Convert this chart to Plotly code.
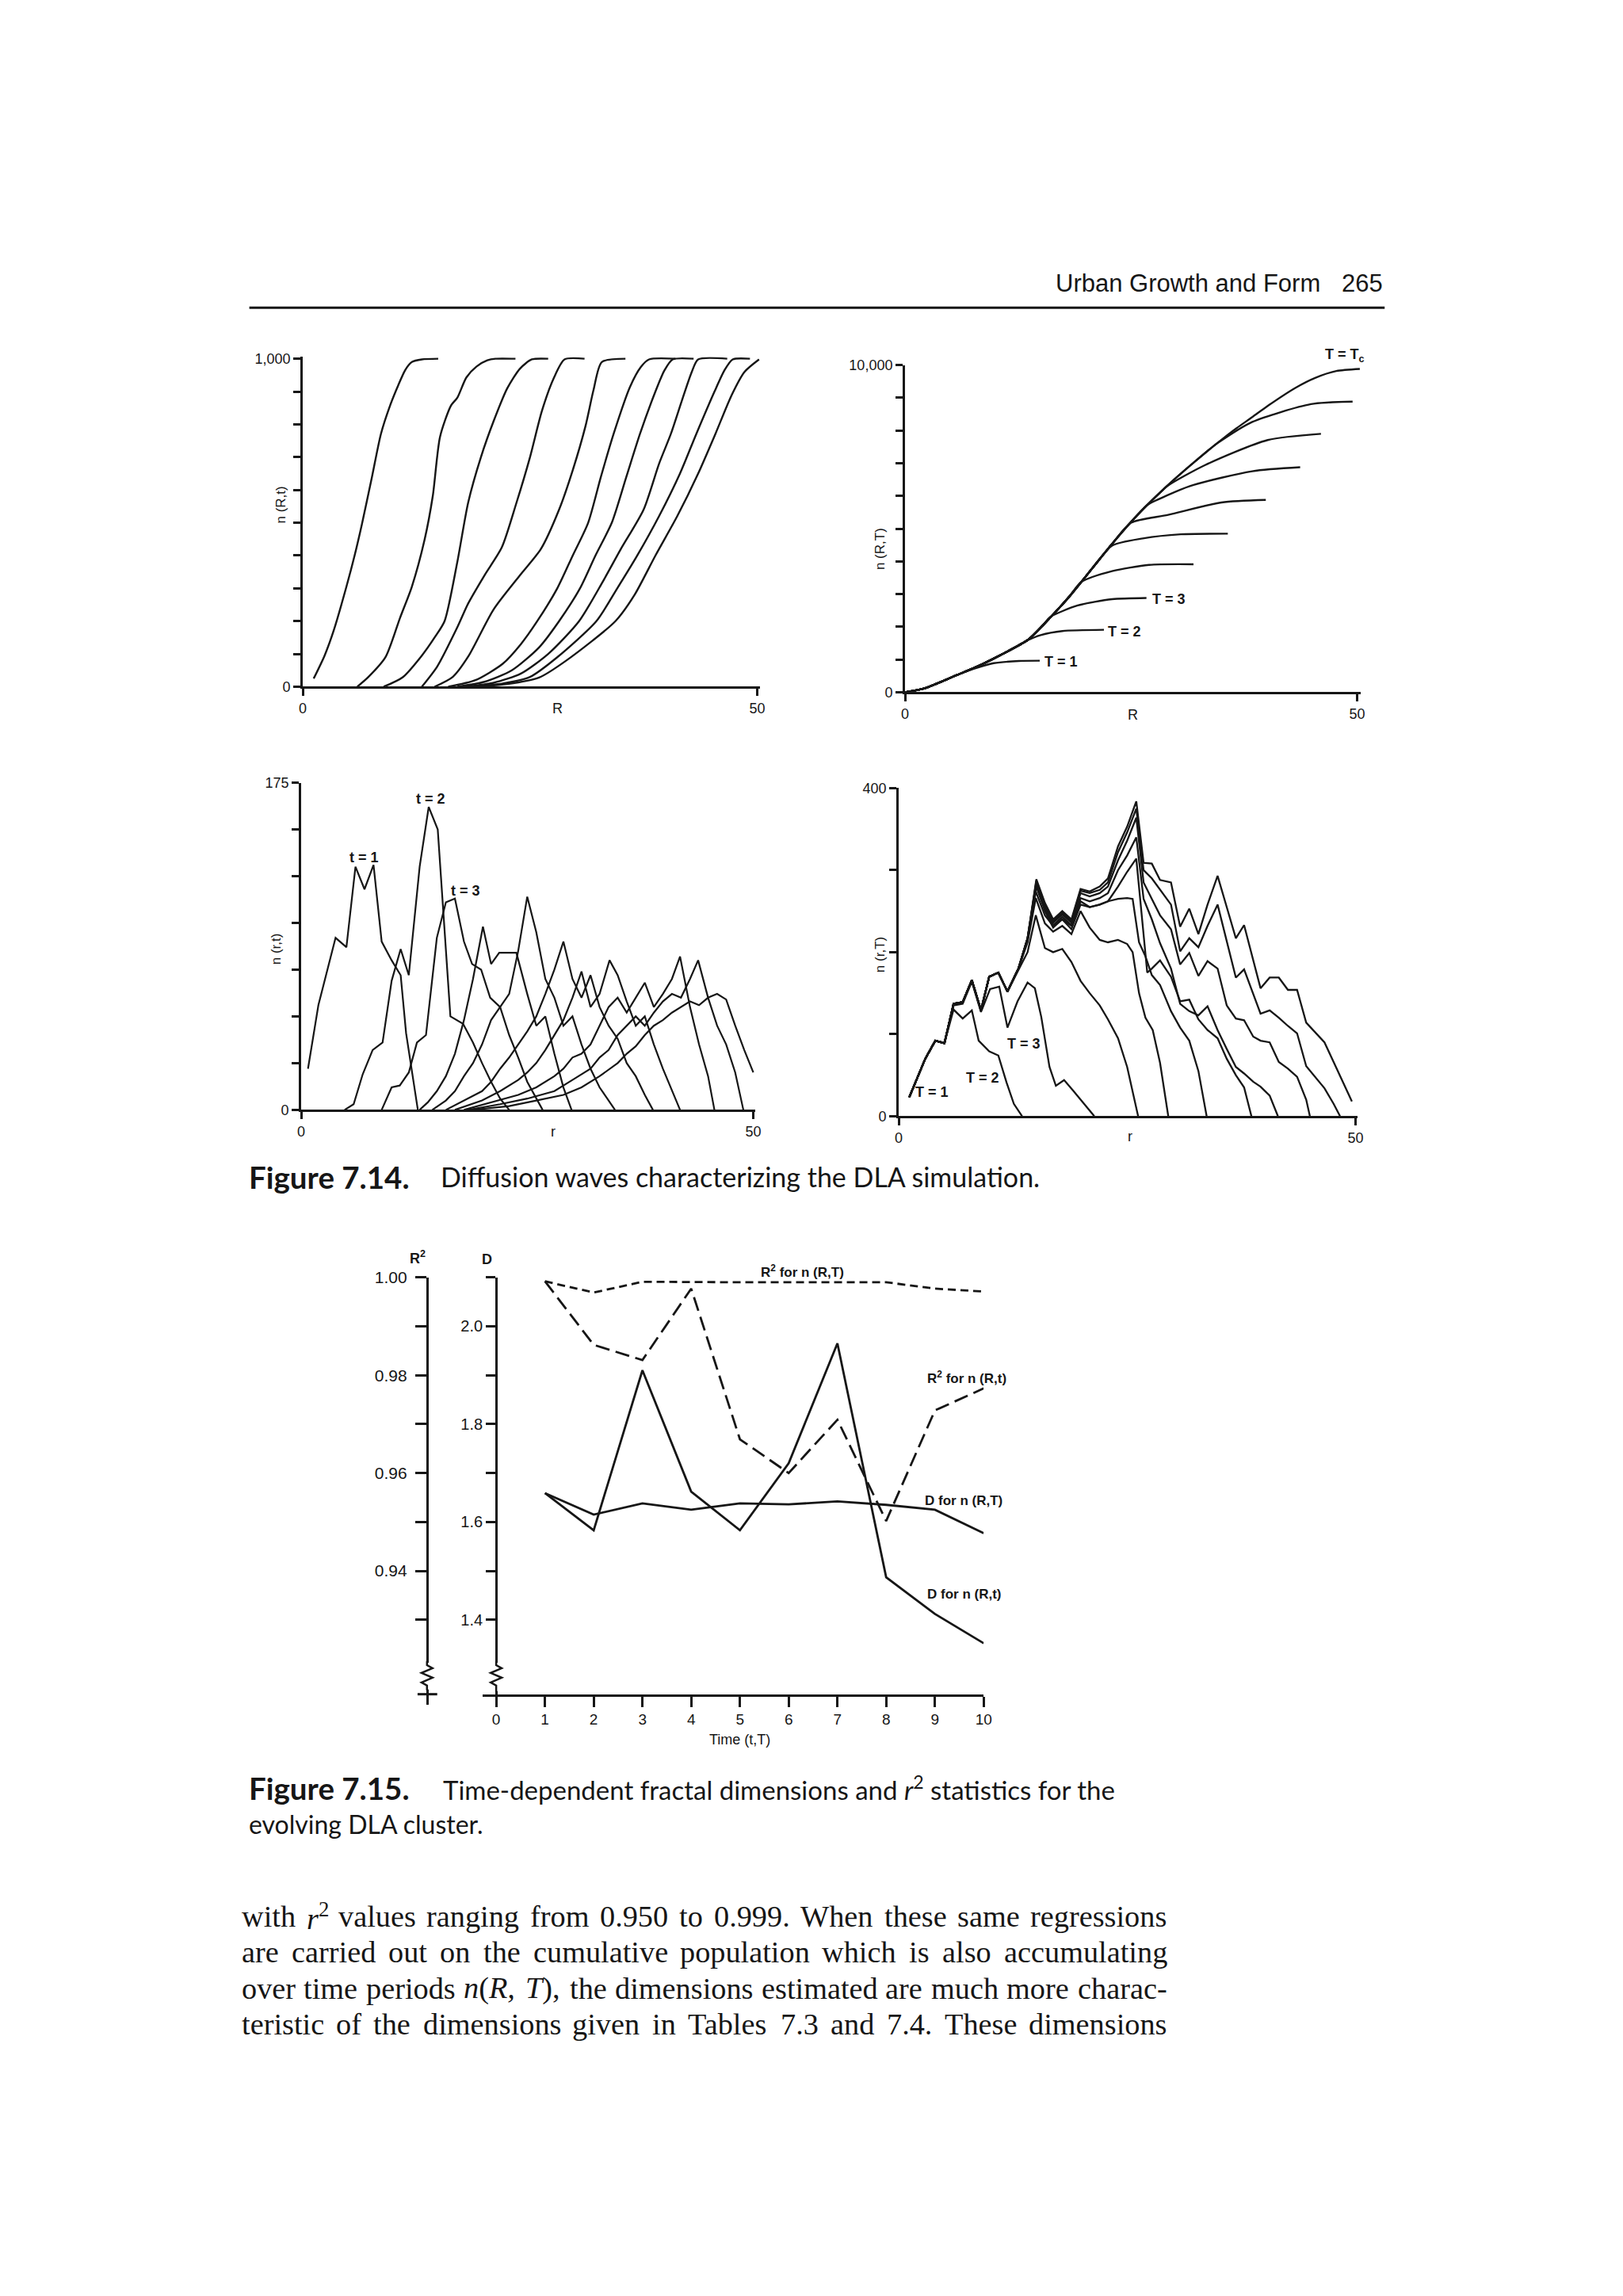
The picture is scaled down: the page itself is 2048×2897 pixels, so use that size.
import re
import plotly.graph_objects as go

# page is 2048x2897; the browser body keeps an 8px margin, so the figure is drawn 8px in
PAGE_W, PAGE_H, MARGIN = 2048, 2897, 8
FW, FH = 2030, 2876
INK = '#161616'

# ---------------- Figure 7.14, top-left: n(R,t) ----------------
A_R = [
    [1.2, 2.4, 3.4, 4.8, 5.7, 6.5, 7.6, 8.6, 9.6, 10.5, 11.3, 12.0, 13.1, 14.9],
    [6.0, 7.2, 9.1, 10.7, 12.0, 13.4, 14.3, 15.1, 16.3, 17.0, 18.0, 19.1, 20.3, 21.2, 23.4],
    [8.9, 11.0, 13.1, 14.5, 15.6, 17.0, 18.2, 19.6, 21.0, 22.5, 23.9, 25.2, 27.0],
    [13.1, 14.8, 17.0, 18.2, 20.0, 21.9, 23.5, 25.0, 26.3, 27.6, 28.8, 31.0],
    [14.5, 16.5, 18.2, 21.0, 23.9, 26.2, 28.2, 29.7, 31.1, 32.0, 32.9, 35.5],
    [16.0, 19.0, 22.0, 24.0, 25.8, 28.0, 29.7, 31.4, 32.8, 34.2, 36.0, 37.2, 38.1, 41.0],
    [17.0, 20.0, 23.0, 26.0, 28.2, 30.5, 32.2, 34.0, 35.6, 37.1, 38.8, 39.8, 40.7, 43.0],
    [18.0, 21.0, 24.0, 27.0, 30.4, 33.0, 35.0, 37.5, 39.2, 40.5, 41.8, 42.8, 43.5, 46.7],
    [18.5, 22.0, 25.0, 28.0, 32.3, 34.6, 36.8, 39.2, 41.5, 43.3, 45.3, 46.4, 47.3, 49.2],
    [19.0, 22.5, 26.0, 29.0, 34.4, 36.5, 38.8, 41.2, 43.5, 45.4, 47.2, 48.6, 50.2],
]
A_N = [
    [25, 95, 171, 305, 400, 495, 638, 771, 857, 919, 967, 990, 998, 1000],
    [0, 29, 90, 210, 305, 448, 581, 762, 857, 881, 943, 976, 995, 1000, 1000],
    [0, 29, 95, 150, 200, 380, 562, 700, 810, 910, 970, 998, 1000],
    [0, 62, 181, 254, 340, 425, 560, 700, 840, 940, 998, 1000],
    [0, 30, 92, 236, 340, 420, 540, 660, 794, 906, 990, 1000],
    [0, 20, 70, 130, 200, 300, 400, 500, 640, 771, 914, 975, 998, 1000],
    [0, 15, 50, 120, 200, 300, 400, 500, 640, 771, 900, 965, 998, 1000],
    [0, 12, 40, 100, 200, 320, 420, 540, 680, 771, 880, 960, 998, 1000],
    [0, 10, 30, 90, 200, 300, 400, 520, 650, 771, 900, 965, 998, 1000],
    [0, 8, 28, 80, 200, 280, 400, 520, 650, 771, 890, 960, 998],
]

# ---------------- Figure 7.14, top-right: n(R,T) ----------------
B_ENV_R = [0, 2.2, 5.7, 8.1, 10.8, 13.6, 15.3, 18.1, 20.8, 22.9, 25.0, 26.7, 28.1, 29.8,
           31.9, 33.9, 35.3, 36.7, 38.4, 40.1, 43.2, 45.3, 47.7, 50.3]
B_ENV_N = [0, 124, 520, 800, 1170, 1603, 2062, 2902, 3820, 4534, 5206, 5699, 6077, 6511,
           7015, 7475, 7783, 8077, 8409, 8749, 9307, 9601, 9817, 9882]
B_BEND_R = [
    [7.6, 9.8, 12.6, 14.9],
    [13.3, 15.0, 17.4, 22.0],
    [16.0, 19.1, 22.9, 26.7],
    [19.5, 22.9, 27.0, 31.9],
    [22.9, 26.3, 30.5, 35.7],
    [25.0, 29.1, 35.0, 39.9],
    [27.0, 31.5, 38.4, 43.7],
    [29.1, 33.2, 40.1, 46.0],
    [34.6, 38.4, 44.9, 49.5],
]
B_BEND_N = [
    [715, 887, 954, 963],
    [1555, 1746, 1870, 1908],
    [2290, 2652, 2843, 2881],
    [3370, 3702, 3892, 3911],
    [4480, 4700, 4827, 4846],
    [5180, 5420, 5800, 5877],
    [5760, 6300, 6755, 6878],
    [6320, 6945, 7708, 7899],
    [7620, 8260, 8805, 8882],
]

# ---------------- Figure 7.14, bottom-left: n(r,t) ----------------
C_R = [
    [0.75, 1.9, 3.8, 5.0, 6.0, 7.0, 8.0, 8.9, 10.0, 11.0, 11.6, 12.9],
    [4.8, 5.8, 6.8, 7.9, 9.0, 10.0, 11.0, 11.9, 13.1, 14.1, 15.1, 16.5, 17.9, 19.0, 20.0, 21.0, 22.0, 23.0],
    [8.9, 10.0, 10.9, 11.9, 12.8, 13.8, 15.0, 16.0, 17.0, 18.0, 18.9, 19.9, 20.9, 22.0, 23.0, 24.0, 25.0, 26.0, 26.7],
    [13.1, 14.0, 15.0, 16.0, 17.0, 18.0, 19.0, 20.1, 21.0, 21.9, 23.0, 23.8, 25.0, 26.0, 27.0, 28.0, 29.0, 29.9],
    [14.5, 16, 17, 18, 19, 20, 21, 22, 23, 24, 25, 26, 27, 28, 29, 30, 31, 32, 33, 34, 34.7],
    [16, 18, 20, 21, 22, 23, 24, 25, 26, 27, 28, 29, 30, 31, 32, 33, 34, 35, 36, 37, 38, 38.9],
    [17, 20, 22, 24, 25, 26, 27, 28, 29, 30, 31, 32, 33, 34.1, 35, 36, 37, 38, 39, 40, 41, 41.9],
    [18, 21, 24, 26, 28, 29, 30, 31, 32, 33, 34, 35, 36, 37, 38, 39, 40, 41, 41.9, 43, 44, 45, 45.7],
    [18.5, 22, 25, 28, 30, 32, 33, 34, 35, 36, 37, 38, 39, 40, 41, 42, 43, 43.9, 45, 46, 47, 48, 48.9],
    [19, 23, 26, 29, 31, 33, 35, 36, 37, 38, 39, 40, 41, 42, 43, 44, 45, 46, 47, 48, 49, 50],
]
C_N = [
    [22, 56, 92, 87, 130, 118, 131, 90, 80, 72, 41, 0],
    [0, 3, 19, 32, 36, 69, 86, 72, 130, 162, 150, 50, 46, 36, 25, 15, 6, 0],
    [0, 12, 13, 20, 36, 40, 92, 111, 113, 90, 78, 75, 60, 55, 40, 28, 15, 6, 0],
    [0, 4, 10, 18, 30, 48, 70, 98, 78, 84, 84, 84, 62, 45, 50, 30, 12, 0],
    [0, 5, 10, 18, 25, 35, 48, 55, 62, 85, 114, 95, 70, 60, 45, 50, 35, 22, 12, 5, 0],
    [0, 5, 10, 15, 22, 28, 35, 42, 50, 62, 75, 90, 70, 60, 72, 55, 45, 38, 25, 18, 8, 0],
    [0, 5, 10, 16, 20, 25, 32, 40, 48, 60, 74, 55, 62, 80, 72, 58, 45, 50, 35, 22, 10, 0],
    [0, 4, 8, 12, 18, 22, 28, 30, 35, 45, 55, 60, 52, 60, 68, 55, 62, 70, 82, 55, 35, 18, 0],
    [0, 3, 6, 10, 16, 22, 28, 32, 40, 45, 50, 45, 52, 58, 62, 60, 70, 80, 60, 45, 35, 20, 0],
    [0, 2, 5, 8, 12, 18, 25, 30, 34, 40, 45, 48, 52, 55, 58, 56, 60, 62, 59, 45, 32, 20],
]

# ---------------- Figure 7.14, bottom-right: n(r,T) ----------------
D1_R = [1.15, 2.0, 2.9, 4.0, 5.0, 6.0, 7.0, 8.0, 8.75, 9.9, 10.9, 11.8, 12.6, 13.5]
D1_N = [23, 45, 70, 92, 89, 130, 119, 129, 92, 79, 74, 41, 15, 0]
D2_R = [1.15, 2.0, 2.9, 4.0, 5.0, 6.0, 7.0, 8.0, 9.0, 10.0, 11.0, 11.9, 13.0, 14.1, 14.9, 15.6,
        16.5, 17.2, 18.1, 19.1, 20.1, 21.4]
D2_N = [23, 45, 70, 92, 89, 135, 137, 164, 127, 155, 158, 108, 140, 163, 156, 121, 60, 37, 44, 31, 18, 0]
D_SH_R = [1.15, 2.0, 2.9, 4.0, 5.0, 6.0, 7.0, 8.0, 9.0, 9.9, 10.9, 11.9]
D_SH_N = [23, 45, 70, 92, 89, 137, 139, 166, 129, 170, 175, 152]
D_R = [
    [13.1, 14.1, 15.0, 16.0, 16.9, 17.9, 18.9, 19.9, 20.9, 22.0, 22.9, 24.0, 25.0, 25.6, 26.2],
    [13.1, 14.1, 15.0, 16.0, 16.9, 17.9, 18.9, 19.9, 20.9, 22.0, 22.9, 24.0, 25.0, 25.6, 26.3, 27.0,
     27.8, 28.6, 29.5],
    [13.1, 14.1, 15.0, 16.0, 16.9, 17.9, 18.9, 19.9, 20.9, 22.0, 22.9, 24.0, 25.0, 25.6, 26.3, 27.0,
     27.7, 28.6, 29.8, 30.8, 31.8, 32.8, 33.7],
    [13.1, 14.1, 15.06, 16.0, 16.9, 17.9, 18.9, 19.9, 20.9, 22.0, 22.9, 24.0, 25.0, 26.0, 26.8, 27.2,
     27.7, 28.6, 29.8, 30.8, 31.8, 32.8, 33.8, 34.9, 35.9, 36.9, 37.8, 38.6],
    [13.1, 14.1, 15.06, 16.0, 16.9, 17.9, 18.9, 19.9, 20.9, 22.0, 22.9, 24.0, 25.0, 26.0, 26.8, 27.7,
     28.6, 29.8, 30.8, 31.8, 32.8, 33.8, 34.9, 35.9, 36.9, 37.8, 38.8, 39.6, 40.6, 41.5],
    [13.1, 14.1, 15.06, 16.0, 16.9, 17.9, 18.9, 19.9, 20.9, 22.0, 22.9, 24.0, 25.0, 26.0, 26.8, 27.7,
     28.6, 29.8, 30.8, 31.8, 32.8, 33.8, 34.9, 35.9, 36.9, 37.8, 38.8, 39.6, 40.6, 41.6, 42.6, 43.6,
     44.6, 45.0],
    [13.1, 14.1, 15.06, 16.0, 16.9, 17.9, 18.9, 19.9, 20.9, 22.0, 22.9, 24.0, 25.0, 26.0, 26.8, 27.7,
     28.6, 29.8, 30.8, 31.8, 32.8, 33.8, 34.9, 35.9, 36.9, 37.8, 38.8, 39.6, 40.6, 41.6, 42.6, 43.6,
     44.6, 45.6, 46.6, 47.6, 48.3],
    [13.1, 14.1, 15.06, 16.0, 16.9, 17.9, 18.9, 19.9, 20.9, 22.0, 22.9, 24.0, 25.0, 26.0, 26.8, 27.7,
     28.6, 29.8, 30.8, 31.8, 32.8, 33.8, 34.9, 35.9, 36.9, 37.8, 38.8, 39.6, 40.6, 41.6, 42.6, 43.6,
     44.6, 45.6, 46.6, 47.6, 48.6, 49.6],
]
D_N = [
    [178, 200, 245, 205, 200, 204, 188, 165, 150, 135, 118, 95, 60, 30, 0],
    [180, 212, 266, 235, 225, 232, 222, 250, 230, 215, 212, 215, 210, 200, 150, 120, 105, 65, 0],
    [180, 215, 274, 245, 232, 240, 232, 262, 255, 258, 262, 265, 266, 265, 212, 195, 172, 160, 128,
     108, 92, 55, 0],
    [180, 216, 280, 250, 230, 240, 228, 258, 255, 258, 262, 280, 298, 314, 220, 175, 180, 190, 170,
     140, 142, 118, 105, 95, 70, 50, 35, 0],
    [180, 217, 282, 252, 233, 243, 233, 266, 262, 266, 272, 300, 318, 340, 265, 240, 211, 180, 137,
     128, 123, 134, 105, 82, 60, 52, 42, 36, 25, 0],
    [180, 217, 285, 256, 236, 246, 236, 272, 268, 272, 280, 312, 336, 364, 285, 265, 245, 228, 185,
     199, 171, 189, 180, 135, 119, 117, 97, 92, 90, 66, 58, 48, 20, 0],
    [180, 217, 287, 258, 238, 248, 238, 275, 272, 276, 285, 322, 346, 375, 300, 290, 276, 258, 201,
     217, 206, 232, 258, 212, 169, 179, 150, 125, 129, 120, 110, 101, 61, 48, 34, 15, 0],
    [180, 217, 289, 260, 240, 250, 240, 277, 274, 280, 290, 329, 353, 384, 309, 308, 288, 285, 231,
     253, 222, 258, 293, 255, 217, 233, 190, 156, 169, 169, 154, 154, 114, 102, 90, 66, 42, 18],
]

# ---------------- Figure 7.15 ----------------
TIME = [1, 2, 3, 4, 5, 6, 7, 8, 9, 10]
D_Rt = [1.659, 1.583, 1.910, 1.662, 1.583, 1.720, 1.965, 1.487, 1.412, 1.352]
D_RT = [1.659, 1.615, 1.638, 1.625, 1.638, 1.636, 1.642, 1.635, 1.625, 1.577]
R2_RT = [0.9992, 0.9969, 0.9991, 0.9990, 0.9990, 0.9990, 0.9990, 0.9990, 0.9977, 0.9971]
R2_Rt = [0.9992, 0.9862, 0.9831, 0.9977, 0.9669, 0.9600, 0.9709, 0.9502, 0.9728, 0.9773]
D_MAJOR = [1.4, 1.6, 1.8, 2.0]
D_MINOR = [1.5, 1.7, 1.9, 2.1]
R2_MAJOR = [0.94, 0.96, 0.98, 1.00]
R2_MINOR = [0.93, 0.95, 0.97, 0.99]
T_TICKS = [0, 1, 2, 3, 4, 5, 6, 7, 8, 9, 10]

BODY = [
    'with <i>r</i><sup>2</sup> values ranging from 0.950 to 0.999. When these same regressions',
    'are carried out on the cumulative population which is also accumulating',
    'over time periods <i>n</i>(<i>R,</i> <i>T</i>), the dimensions estimated are much more charac-',
    'teristic of the dimensions given in Tables 7.3 and 7.4. These dimensions',
]


def px(x):
    return (x - MARGIN) / FW


def py(y):
    return 1 - (y - MARGIN) / FH


def xdom(p0, p1, v0, v1, lo, hi):
    k = (p1 - p0) / (v1 - v0)
    return [px(p0 + (lo - v0) * k), px(p0 + (hi - v0) * k)]


def ydom(p0, p1, v0, v1, lo, hi):
    k = (p1 - p0) / (v1 - v0)
    return [py(p0 + (lo - v0) * k), py(p0 + (hi - v0) * k)]


NARROW = 'Liberation Sans Narrow, Liberation Sans, Arial'
TICKFONT = dict(family=NARROW, size=18, color=INK)


def axis(dom, rng, minor_vals=None, **kw):
    a = dict(domain=dom, range=rng, showline=True, linecolor=INK, linewidth=3,
             ticks='outside', tickcolor=INK, tickwidth=2.5, ticklen=9,
             showgrid=False, zeroline=False, tickfont=TICKFONT, fixedrange=True)
    if minor_vals:
        a['minor'] = dict(tickmode='array', tickvals=minor_vals, ticks='outside',
                          ticklen=kw.get('ticklen', 9), tickwidth=2.5, tickcolor=INK,
                          showgrid=False)
    a.update(kw)
    return a


fig = go.Figure()


def line(x, y, xa, ya, width=2.4, shape='linear', dash='solid'):
    ln = dict(color=INK, width=width, shape=shape, dash=dash)
    if shape == 'spline':
        ln['smoothing'] = 0.7
    fig.add_trace(go.Scatter(x=x, y=y, mode='lines', line=ln, xaxis=xa, yaxis=ya,
                             showlegend=False, hoverinfo='skip'))


for r, n in zip(A_R, A_N):
    line(r, n, 'x', 'y', 2.4, 'spline')

for br, bn in zip(B_BEND_R, B_BEND_N):
    xs = [r for r in B_ENV_R if r < br[0]] + br
    ys = [n for r, n in zip(B_ENV_R, B_ENV_N) if r < br[0]] + bn
    line(xs, ys, 'x2', 'y2', 2.4, 'spline')
line(B_ENV_R, B_ENV_N, 'x2', 'y2', 2.4, 'spline')

for r, n in zip(C_R, C_N):
    line(r, n, 'x3', 'y3', 2.2)

line(D1_R, D1_N, 'x4', 'y4', 2.3)
line(D2_R, D2_N, 'x4', 'y4', 2.3)
for r, n in zip(D_R, D_N):
    line(D_SH_R + r, D_SH_N + n, 'x4', 'y4', 2.3)

line(TIME, R2_RT, 'x5', 'y6', 2.8, dash='10px,6px')
line(TIME, R2_Rt, 'x5', 'y6', 2.8, dash='18px,8px')
line(TIME, D_RT, 'x5', 'y5', 2.8)
line(TIME, D_Rt, 'x5', 'y5', 2.8)

R2X = 538       # R^2 axis position (page px)
MID = 6         # vertical nudge of the two middle panels
fig.update_layout(
    width=FW, height=FH, margin=dict(l=0, r=0, t=0, b=0),
    paper_bgcolor='white', plot_bgcolor='rgba(0,0,0,0)', hovermode=False,
    xaxis=axis(xdom(380, 958, 0, 50, 0, 50.3), [0, 50.3], anchor='y',
               tickvals=[0, 50], ticktext=['0', '50']),
    yaxis=axis(ydom(861, 444, 0, 1000, 0, 1006), [0, 1006], list(range(100, 1000, 100)),
               anchor='x', tickvals=[0, 1000], ticktext=['0', '1,000']),
    xaxis2=axis(xdom(1146, 1721, 0, 50, 0, 50.4), [0, 50.4], anchor='y2',
                tickvals=[0, 50], ticktext=['0', '50']),
    yaxis2=axis(ydom(868, 452, 0, 10000, 0, 10000), [0, 10000], list(range(1000, 10000, 1000)),
                anchor='x2', tickvals=[0, 10000], ticktext=['0', '10,000']),
    xaxis3=axis(xdom(378, 953, 0, 50, 0, 50.2), [0, 50.2], anchor='y3',
                tickvals=[0, 50], ticktext=['0', '50']),
    yaxis3=axis(ydom(1393 + MID, 977 + MID, 0, 175, 0, 175), [0, 175], list(range(25, 175, 25)),
                anchor='x3', tickvals=[0, 175], ticktext=['0', '175']),
    xaxis4=axis(xdom(1138, 1719, 0, 50, 0, 50.2), [0, 50.2], anchor='y4',
                tickvals=[0, 50], ticktext=['0', '50']),
    yaxis4=axis(ydom(1401 + MID, 984 + MID, 0, 400, 0, 400), [0, 400], [100, 200, 300],
                anchor='x4', tickvals=[0, 400], ticktext=['0', '400']),
    xaxis5=axis(xdom(626, 1246, 0, 10, -0.274, 10.0), [-0.274, 10.0], anchor='y5',
                tickvals=T_TICKS, ticklen=13, tickfont=dict(TICKFONT, size=19)),
    yaxis5=axis(ydom(2142, 1612, 1.2479, 2.1, 1.2479, 2.1), [1.2479, 2.1], D_MINOR,
                anchor='free', position=px(626), tickvals=D_MAJOR,
                ticktext=['1.4', '1.6', '1.8', '2.0'], ticklen=12,
                tickfont=dict(TICKFONT, size=20)),
    yaxis6=axis(ydom(1985.2, 1612, 0.94, 1.0, 0.9127, 1.0), [0.9127, 1.0], R2_MINOR,
                anchor='free', position=px(R2X), tickvals=R2_MAJOR,
                ticktext=['0.94', '0.96', '0.98', '1.00'], ticklen=14, ticklabelstandoff=6,
                tickfont=dict(TICKFONT, size=21)),
)

ann = []


def text(t, x, y, size=18, family='Liberation Sans, Arial', xanchor='center', angle=0):
    ann.append(dict(text=t, x=px(x), y=py(y), xref='paper', yref='paper', showarrow=False,
                    xanchor=xanchor, yanchor='middle', textangle=angle,
                    font=dict(family=family, size=size, color=INK)))


text('Urban Growth and Form', 1676, 348, 31, NARROW, 'right')
text('265', 1756, 348, 31, NARROW, 'right')

text('R', 704, 889, 18, NARROW)
text('R', 1436, 897, 18, NARROW)
text('r', 698, 1421 + MID, 18, NARROW)
text('r', 1432, 1427 + MID, 18, NARROW)
text('n (R,t)', 352, 630, 17, NARROW, angle=-90)
text('n (R,T)', 1115, 686, 17, NARROW, angle=-90)
text('n (r,t)', 347, 1188 + MID, 17, NARROW, angle=-90)
text('n (r,T)', 1115, 1196 + MID, 17, NARROW, angle=-90)

text('<b>T = 1</b>', 1321, 829, 18, NARROW, 'left')
text('<b>T = 2</b>', 1402, 791, 18, NARROW, 'left')
text('<b>T = 3</b>', 1458, 750, 18, NARROW, 'left')
text('<b>T = T<sub>c</sub></b>', 1678, 440, 18, NARROW, 'left')
text('<b>t = 1</b>', 458, 1072 + MID, 18, NARROW)
text('<b>t = 2</b>', 543, 998 + MID, 18, NARROW)
text('<b>t = 3</b>', 587, 1115 + MID, 18, NARROW)
text('<b>T = 1</b>', 1180, 1370 + MID, 18, NARROW)
text('<b>T = 2</b>', 1245, 1352 + MID, 18, NARROW)
text('<b>T = 3</b>', 1297, 1309 + MID, 18, NARROW)

CAP = 'Lato, Open Sans, sans-serif'
text('<b>Figure 7.14.</b>', 309, 1484, 38.5, CAP, 'left')
text('Diffusion waves characterizing the DLA simulation.', 553, 1484, 34, CAP, 'left')
text('<b>Figure 7.15.</b>', 309, 2261, 38.5, CAP, 'left')
text('Time-dependent fractal dimensions and <i>r</i><sup>2</sup> statistics for the', 556, 2261,
     33, CAP, 'left')
text('evolving DLA cluster.', 309, 2307, 32, CAP, 'left')

text('<b>R<sup>2</sup></b>', R2X - 12, 1587, 18, NARROW)
text('<b>D</b>', 614, 1589, 18, NARROW)
text('<b>R<sup>2</sup> for n (R,T)</b>', 1015, 1604, 17, NARROW)
text('<b>R<sup>2</sup> for n (R,t)</b>', 1225, 1739, 17, NARROW)
text('<b>D for n (R,T)</b>', 1221, 1896, 17, NARROW)
text('<b>D for n (R,t)</b>', 1221, 2015, 17, NARROW)
text('Time (t,T)', 936, 2200, 18, NARROW)

# justified body text (Times-metric widths, units per 1000 em)
TW = {' ': 250, '(': 333, ')': 333, ',': 250, '-': 333, '.': 250, ':': 278}
TW.update({d: 500 for d in '0123456789'})
TW.update(dict(zip('ABCDEFGHIJKLMNOPQRSTUVWXYZ',
                   [722, 667, 667, 722, 611, 556, 722, 722, 333, 389, 722, 611, 889, 722, 722,
                    556, 722, 667, 556, 611, 722, 722, 944, 722, 722, 611])))
TW.update(dict(zip('abcdefghijklmnopqrstuvwxyz',
                   [444, 500, 444, 500, 444, 333, 500, 500, 278, 278, 500, 278, 778, 500, 500,
                    500, 500, 333, 389, 278, 500, 500, 722, 500, 500, 444])))


def units(html):
    tot, sc = 0.0, 1.0
    for tok in re.split(r'(<[^>]+>)', html):
        if tok.startswith('<'):
            sc = 0.7 if tok == '<sup>' else (1.0 if tok == '</sup>' else sc)
            continue
        tot += sum(TW.get(ch, 500) for ch in tok) * sc
    return tot


SERIF = 'Liberation Serif, DejaVu Serif, serif'
LEFT, RIGHT = 300, 1476
natural = [units(s) for s in BODY]
fs = (RIGHT - LEFT) * 1000 / max(natural) * 0.985
for i, s in enumerate(BODY):
    words = s.split(' ')
    ww = [units(w) * fs / 1000 for w in words]
    gap = (RIGHT - LEFT - sum(ww)) / (len(words) - 1)
    x = LEFT
    for w, wd in zip(words, ww):
        text(w, x, 2424 + 46 * i, fs, SERIF, 'left')
        x += wd + gap

shapes = [dict(type='line', xref='paper', yref='paper', x0=px(312), x1=px(1756),
               y0=py(379), y1=py(379), line=dict(color=INK, width=3))]


def path(pts):
    return 'M ' + ' L '.join(f'{px(a):.5f},{py(b):.5f}' for a, b in pts)


for xa, top, bot in [(R2X, 2102, 2136), (626, 2102, 2138)]:
    shapes.append(dict(type='rect', xref='paper', yref='paper', x0=px(xa - 9), x1=px(xa + 9),
                       y0=py(bot), y1=py(top), fillcolor='white', line=dict(width=0),
                       layer='above'))
    zz = [(xa, top - 2), (xa, top + 3), (xa + 7, top + 7), (xa - 7, top + 13), (xa + 7, top + 19),
          (xa - 7, top + 25), (xa, top + 29), (xa, bot + 1)]
    shapes.append(dict(type='path', xref='paper', yref='paper', path=path(zz),
                       line=dict(color=INK, width=2.5), layer='above'))
shapes.append(dict(type='line', xref='paper', yref='paper', x0=px(R2X - 12), x1=px(R2X + 13),
                   y0=py(2142), y1=py(2142), line=dict(color=INK, width=3)))

fig.update_layout(annotations=ann, shapes=shapes)
fig.write_html('out.html')
